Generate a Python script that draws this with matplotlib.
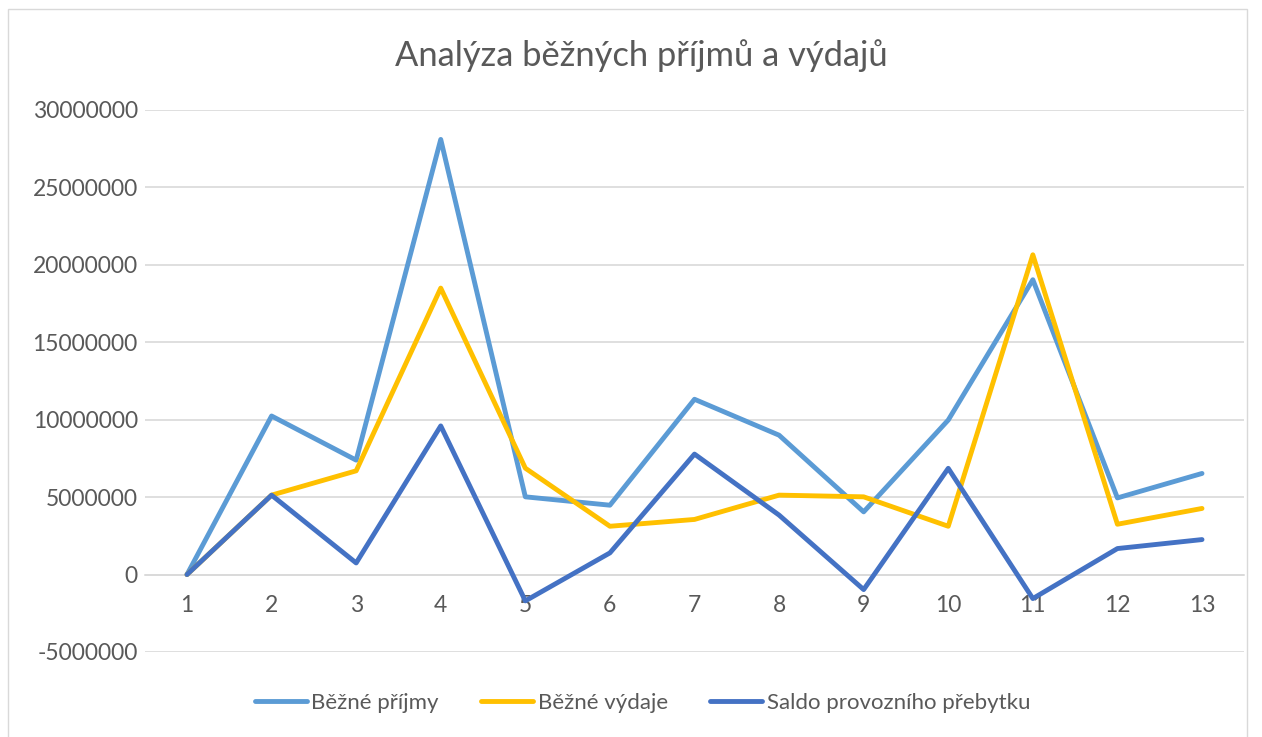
import matplotlib
matplotlib.use("Agg")
import matplotlib.pyplot as plt
from matplotlib.patches import Rectangle

categories = [1, 2, 3, 4, 5, 6, 7, 8, 9, 10, 11, 12, 13]
bezne_prijmy = [0, 10240000, 7390000, 28100000, 5020000, 4480000, 11320000, 9000000, 4050000, 9980000, 19040000, 4950000, 6530000]
bezne_vydaje = [0, 5130000, 6700000, 18500000, 6870000, 3120000, 3560000, 5130000, 5020000, 3120000, 20650000, 3250000, 4270000]
saldo = [0, 5130000, 750000, 9600000, -1700000, 1400000, 7780000, 3840000, -970000, 6860000, -1550000, 1680000, 2260000]
yticks = [-5000000, 0, 5000000, 10000000, 15000000, 20000000, 25000000, 30000000]

W, H = 1262, 737
plt.rcParams['font.family'] = ['Lato', 'DejaVu Sans']
fig = plt.figure(figsize=(W / 100, H / 100), dpi=100)
ax = fig.add_axes([144.7 / W, 1 - 652 / H, (1244.3 - 144.7) / W, (652 - 110) / H])

# chart border
fig.patches.append(Rectangle((8 / W, -0.01), (1247 - 8) / W, (H + 8 - 10) / H - 0.0,
                             transform=fig.transFigure, fill=False, edgecolor='#D9D9D9', linewidth=1.0))

lw = 3.5
ax.plot(categories, bezne_prijmy, color='#5B9BD5', lw=lw, solid_joinstyle='round', solid_capstyle='round', label='Běžné příjmy', zorder=3)
ax.plot(categories, bezne_vydaje, color='#FFC000', lw=lw, solid_joinstyle='round', solid_capstyle='round', label='Běžné výdaje', zorder=3)
ax.plot(categories, saldo, color='#4472C4', lw=lw, solid_joinstyle='round', solid_capstyle='round', label='Saldo provozního přebytku', zorder=3)

ax.set_xlim(0.5, 13.5)
ax.set_ylim(-5000000, 30000000)
ax.set_yticks(yticks)
ax.set_yticklabels([str(v) for v in yticks])
ax.set_xticks(categories)
ax.set_xticklabels([str(c) for c in categories])
ax.grid(axis='y', color='#D9D9D9', linewidth=1.2, zorder=0)
ax.set_axisbelow(True)
for s in ['top', 'right', 'left']:
    ax.spines[s].set_visible(False)
ax.spines['bottom'].set_position(('data', 0))
ax.spines['bottom'].set_color('#D9D9D9')
ax.spines['bottom'].set_linewidth(1.2)
ax.tick_params(axis='both', length=0, labelsize=16.5, colors='#595959')
ax.tick_params(axis='x', pad=15)
ax.tick_params(axis='y', pad=5)

fig.text(641.5 / W, 1 - 56 / H, 'Analýza běžných příjmů a výdajů', ha='center', va='center', fontsize=24.8, color='#595959')

leg = fig.legend(loc='center', bbox_to_anchor=(0.509, 1 - 703 / H), ncol=3, frameon=False,
                 fontsize=16, handlelength=2.35, handletextpad=0.2, columnspacing=1.9)
for t in leg.get_texts():
    t.set_color('#595959')

fig.savefig('out.png', dpi=100)
